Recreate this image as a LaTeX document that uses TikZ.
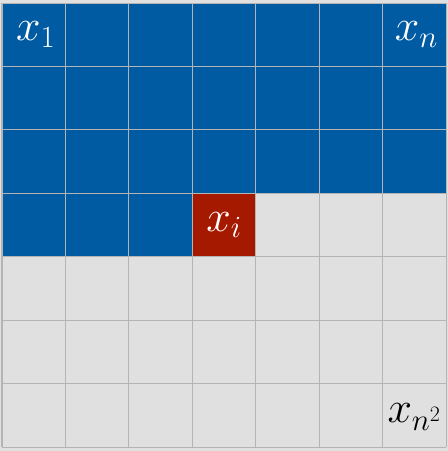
\documentclass[tikz,border=0pt]{standalone}
\usepackage{fix-cm}
\usepackage{tikz}
\definecolor{cblue}{RGB}{0,91,163}
\definecolor{cred}{RGB}{165,25,0}
\definecolor{cgray}{RGB}{224,224,224}
\definecolor{cline}{RGB}{180,180,180}
\begin{document}
\begin{tikzpicture}[x=1pt,y=-1pt,
  cell/.style={minimum width=63.43pt,minimum height=63.43pt,inner sep=0pt,outer sep=0pt,draw=none,anchor=north west},
  bluecell/.style={cell,fill=cblue},
  redcell/.style={cell,fill=cred},
  graycell/.style={cell,fill=cgray},
  gridline/.style={draw=cline,line width=1pt},
  lab/.style={text=white,font=\fontsize{44}{52}\selectfont},
  labk/.style={text=black,font=\fontsize{44}{52}\selectfont}]
\fill[cgray] (0,0) rectangle (448,451);
\useasboundingbox (0,0) rectangle (448,451);
\foreach \r in {0,...,6}{
  \foreach \c in {0,...,6}{
    \pgfmathtruncatemacro{\idx}{\r*7+\c}
    \ifnum\idx<24
      \node[bluecell] (c\r\c) at ({2+63.43*\c},{3+63.43*\r}) {};
    \else\ifnum\idx=24
      \node[redcell] (c\r\c) at ({2+63.43*\c},{3+63.43*\r}) {};
    \else
      \node[graycell] (c\r\c) at ({2+63.43*\c},{3+63.43*\r}) {};
    \fi\fi
  }
}
\foreach \k in {0,...,7}{
  \draw[gridline] ({2+63.43*\k},3) -- ({2+63.43*\k},447);
  \draw[gridline] (2,{3+63.43*\k}) -- (446,{3+63.43*\k});
}
\node[lab] (l1) at ([xshift=2pt]c00.center) {$x_1$};
\node[lab] (ln) at ([xshift=2pt]c06.center) {$x_n$};
\node[lab] (li) at (c33.center) {$x_i$};
\node[labk] (lnn) at ([yshift=-2pt]c66.center) {$x_{n^2}$};
\end{tikzpicture}
\end{document}
